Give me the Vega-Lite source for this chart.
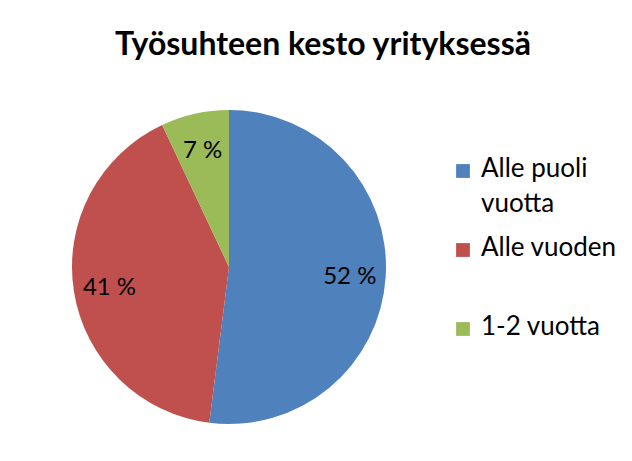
{
  "$schema": "https://vega.github.io/schema/vega-lite/v6.json",
  "width": 316,
  "height": 316,
  "autosize": {"type": "none"},
  "padding": {"left": 71, "top": 109, "right": 245, "bottom": 36},
  "background": "white",
  "title": {
    "text": "Työsuhteen kesto yrityksessä",
    "font": "Lato",
    "fontSize": 32,
    "fontWeight": "bold",
    "color": "black",
    "anchor": "middle",
    "dx": 94,
    "offset": 47
  },
  "data": {
    "values": [
      {"category": "Alle puoli vuotta", "percent": 52, "label": "52 %", "order": 1},
      {"category": "Alle vuoden", "percent": 41, "label": "41 %", "order": 2},
      {"category": "1-2 vuotta", "percent": 7, "label": "7 %", "order": 3}
    ]
  },
  "encoding": {
    "theta": {"field": "percent", "type": "quantitative", "stack": true},
    "order": {"field": "order", "type": "quantitative"}
  },
  "layer": [
    {
      "mark": {"type": "arc", "outerRadius": 157},
      "encoding": {
        "color": {
          "field": "category",
          "type": "nominal",
          "sort": ["Alle puoli vuotta", "Alle vuoden", "1-2 vuotta"],
          "scale": {
            "domain": ["Alle puoli vuotta", "Alle vuoden", "1-2 vuotta"],
            "range": ["#4F81BD", "#C0504D", "#9BBB59"]
          },
          "legend": {
            "orient": "none",
            "legendX": 379,
            "legendY": 49,
            "title": null,
            "symbolType": "square",
            "symbolSize": 190,
            "symbolStrokeWidth": 0,
            "labelFont": "Lato",
            "labelFontSize": 26,
            "labelColor": "black",
            "labelBaseline": "top",
            "labelOffset": 5,
            "rowPadding": 18,
            "labelLimit": 300,
            "labelExpr": "datum.label == 'Alle puoli vuotta' ? ['Alle puoli', 'vuotta'] : [datum.label, '']",
            "encode": {
              "labels": {"update": {"lineHeight": {"value": 35}, "dy": {"value": -15}}}
            }
          }
        }
      }
    },
    {
      "mark": {"type": "text", "radius": 121, "fontSize": 24, "font": "Lato", "color": "black", "dy": 2},
      "encoding": {"text": {"field": "label", "type": "nominal"}}
    }
  ]
}
